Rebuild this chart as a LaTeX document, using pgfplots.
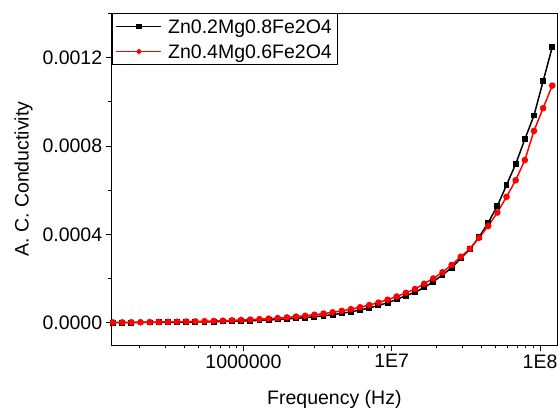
\documentclass[border=0pt]{standalone}
\usepackage{fontspec}
\setmainfont{Liberation Sans}
\usepackage{pgfplots}
\usepackage{pgfplotstable}
\pgfplotsset{compat=1.18}

% f (Hz), Zn0.2Mg0.8Fe2O4, Zn0.4Mg0.6Fe2O4
\pgfplotstableread{
f        a          b
1.321e5  0.00000104 0.00000207
1.523e5  0.00000121 0.00000237
1.756e5  0.00000140 0.00000269
2.024e5  0.00000162 0.00000307
2.333e5  0.00000189 0.00000350
2.689e5  0.00000219 0.00000399
3.099e5  0.00000254 0.00000454
3.572e5  0.00000295 0.00000518
4.118e5  0.00000343 0.00000590
4.746e5  0.00000397 0.00000672
5.470e5  0.00000461 0.00000767
6.305e5  0.00000536 0.00000875
7.268e5  0.00000621 0.00000995
8.378e5  0.00000721 0.00001135
9.656e5  0.00000838 0.00001294
1.113e6  0.00000975 0.00001476
1.283e6  0.0000113  0.0000168
1.479e6  0.0000131  0.0000191
1.704e6  0.0000152  0.0000218
1.965e6  0.0000177  0.0000248
2.265e6  0.0000205  0.0000283
2.610e6  0.0000238  0.0000323
3.009e6  0.0000276  0.0000367
3.469e6  0.0000321  0.0000419
3.998e6  0.0000372  0.0000477
4.609e6  0.0000433  0.0000545
5.312e6  0.0000501  0.0000621
6.123e6  0.0000583  0.0000708
7.058e6  0.0000678  0.0000807
8.136e6  0.0000785  0.0000918
9.376e6  0.0000912  0.0001047
1.081e7  0.000106   0.0001194
1.246e7  0.000123   0.000136
1.436e7  0.000138   0.000153
1.655e7  0.000160   0.000177
1.908e7  0.000186   0.000201
2.199e7  0.000217   0.000229
2.535e7  0.000249   0.000262
2.922e7  0.000292   0.000299
3.368e7  0.000333   0.000335
3.882e7  0.000388   0.000385
4.475e7  0.000453   0.000438
5.158e7  0.000529   0.000499
5.946e7  0.000623   0.000570
6.853e7  0.000718   0.000645
7.900e7  0.000830   0.000736
9.104e7  0.000938   0.000868
1.049e8  0.001092   0.000971
1.209e8  0.001247   0.001073
}\cond

\begin{document}
\begin{tikzpicture}[font=\fontsize{19.5}{23}\selectfont]
\begin{axis}[
    at={(0,0)}, anchor=south west,
    scale only axis,
    width=445.3pt, height=331.7pt,
    xmode=log,
    xmin=1.294e5, xmax=1.302e8,
    ymin=-0.0001, ymax=0.0014,
    axis line style={line width=0.9pt},
    tick pos=left,
    tick align=outside,
    major tick length=6pt,
    minor tick length=3.5pt,
    every tick/.style={black, line width=0.9pt},
    xtick={1e6,1e7,1e8},
    xticklabels={1000000,1E7,1E8},
    minor xtick={2e5,3e5,4e5,5e5,6e5,7e5,8e5,9e5,2e6,3e6,4e6,5e6,6e6,7e6,8e6,9e6,2e7,3e7,4e7,5e7,6e7,7e7,8e7,9e7},
    ytick={0,0.0004,0.0008,0.0012},
    minor ytick={0.0002,0.0006,0.0010,0.0014},
    scaled y ticks=false,
    /pgf/number format/assume math mode=true,
    yticklabel style={/pgf/number format/.cd, fixed, fixed zerofill, precision=4},
    xlabel={Frequency (Hz)},
    ylabel={A. C. Conductivity},
    xlabel style={at={(axis description cs:0.5,-0.1786)}, anchor=base},
    ylabel style={at={(axis description cs:-0.1868,0.5)}, anchor=base},
    legend style={at={(0,1)}, anchor=north west, draw=black, line width=0.9pt,
        inner xsep=3.5pt, inner ysep=0.8pt, row sep=1.8pt, column sep=4pt,
        nodes={inner sep=2pt, text height=16.6pt, text depth=2.9pt}},
    legend cell align=left,
    legend image code/.code={
        \draw[line width=1.5pt, mark size=1.9pt, mark repeat=2, mark phase=2]
            plot coordinates {(0pt,0pt)(22.5pt,0pt)(45pt,0pt)};},
]
\addplot[black, line width=1.5pt, mark=square*, mark size=2.2pt] table[x=f, y=a] {\cond};
\addlegendentry{Zn0.2Mg0.8Fe2O4}
\addplot[red, line width=1.5pt, mark=*, mark size=2.5pt] table[x=f, y=b] {\cond};
\addlegendentry{Zn0.4Mg0.6Fe2O4}
\end{axis}
\pgfresetboundingbox
\path[use as bounding box] ([shift={(-111.7pt,-63pt)}]current axis.south west) rectangle ([shift={(3pt,13.3pt)}]current axis.north east);
\end{tikzpicture}
\end{document}
